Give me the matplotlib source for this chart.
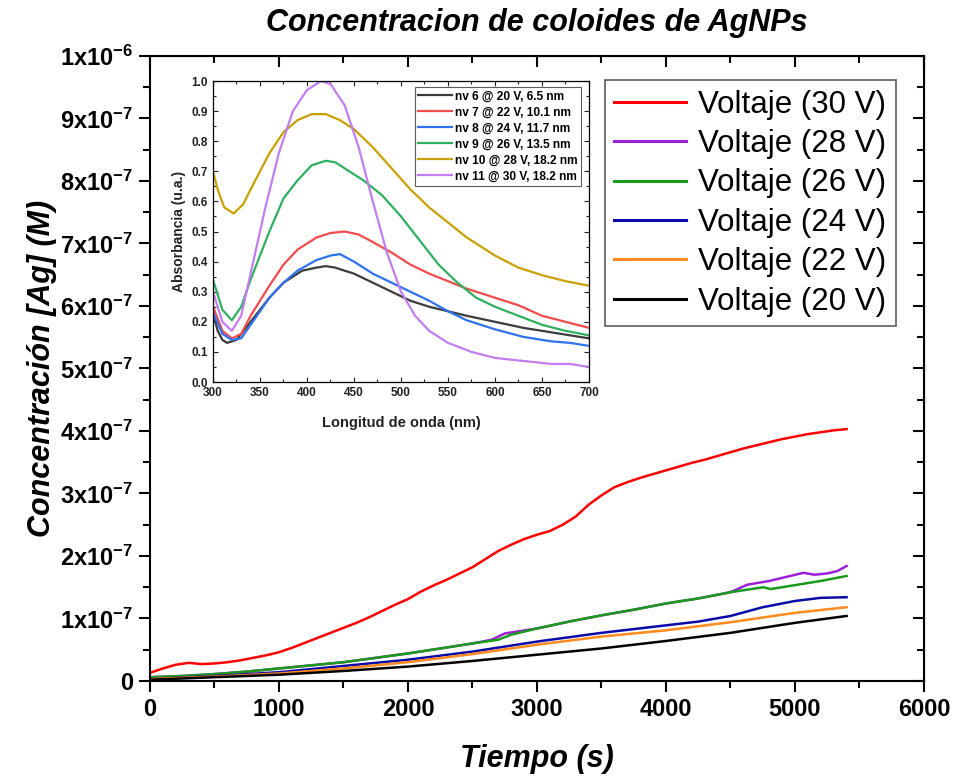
import matplotlib
matplotlib.use("Agg")
import matplotlib.pyplot as plt
from matplotlib.ticker import MultipleLocator, FixedLocator, FixedFormatter

plt.rcParams['font.family'] = ['Liberation Sans', 'DejaVu Sans']
plt.rcParams['mathtext.fontset'] = 'custom'
plt.rcParams['mathtext.rm'] = 'Liberation Sans'
plt.rcParams['mathtext.bf'] = 'Liberation Sans:bold'
plt.rcParams['mathtext.it'] = 'Liberation Sans:italic'

# ---- Concentration vs time (values in units of 1e-7 M) ----
t_30 = [0, 100, 200, 300, 400, 500, 600, 700, 800, 900, 1000, 1100, 1200, 1300, 1400,
        1500, 1600, 1700, 1800, 1900, 2000, 2100, 2200, 2300, 2400, 2500, 2600, 2700,
        2800, 2900, 3000, 3100, 3200, 3300, 3400, 3500, 3600, 3700, 3800, 3900, 4000,
        4100, 4200, 4300, 4400, 4500, 4600, 4700, 4800, 4900, 5000, 5100, 5200, 5300, 5400]
c_30 = [0.13, 0.20, 0.26, 0.29, 0.27, 0.28, 0.30, 0.33, 0.37, 0.41, 0.46, 0.53, 0.61,
        0.69, 0.77, 0.85, 0.93, 1.02, 1.12, 1.22, 1.31, 1.43, 1.53, 1.62, 1.72, 1.82,
        1.95, 2.08, 2.18, 2.27, 2.34, 2.40, 2.50, 2.63, 2.82, 2.97, 3.10, 3.18, 3.25,
        3.31, 3.37, 3.43, 3.49, 3.54, 3.60, 3.66, 3.72, 3.77, 3.82, 3.87, 3.91, 3.95,
        3.98, 4.01, 4.03]

t_28 = [0, 250, 500, 750, 1000, 1250, 1500, 1750, 2000, 2250, 2500, 2650, 2750, 3000,
        3250, 3500, 3750, 4000, 4250, 4500, 4630, 4800, 5065, 5150, 5250, 5330, 5400]
c_28 = [0.06, 0.08, 0.11, 0.15, 0.20, 0.25, 0.30, 0.37, 0.44, 0.52, 0.60, 0.66, 0.76,
        0.84, 0.95, 1.05, 1.14, 1.24, 1.32, 1.42, 1.54, 1.60, 1.73, 1.70, 1.72, 1.76, 1.84]

t_26 = [0, 250, 500, 750, 1000, 1250, 1500, 1750, 2000, 2250, 2500, 2700, 2800, 3000,
        3250, 3500, 3750, 4000, 4250, 4500, 4755, 4810, 5020, 5200, 5400]
c_26 = [0.06, 0.08, 0.11, 0.15, 0.20, 0.25, 0.30, 0.37, 0.44, 0.52, 0.60, 0.66, 0.74,
        0.84, 0.95, 1.05, 1.14, 1.24, 1.32, 1.42, 1.50, 1.47, 1.54, 1.60, 1.68]

t_24 = [0, 500, 1000, 1500, 2000, 2500, 3000, 3500, 4000, 4250, 4500, 4750, 5000, 5200, 5400]
c_24 = [0.03, 0.08, 0.14, 0.24, 0.34, 0.47, 0.63, 0.77, 0.89, 0.95, 1.04, 1.18, 1.28, 1.33, 1.34]

t_22 = [0, 500, 1000, 1500, 2000, 2500, 3000, 3500, 4000, 4500, 5000, 5400]
c_22 = [0.03, 0.07, 0.12, 0.20, 0.30, 0.43, 0.58, 0.71, 0.81, 0.94, 1.09, 1.18]

t_20 = [0, 500, 1000, 1500, 2000, 2500, 3000, 3500, 4000, 4500, 5000, 5400]
c_20 = [0.02, 0.06, 0.10, 0.16, 0.23, 0.32, 0.42, 0.52, 0.64, 0.77, 0.93, 1.04]

series_labels = ['Voltaje (30 V)', 'Voltaje (28 V)', 'Voltaje (26 V)',
                 'Voltaje (24 V)', 'Voltaje (22 V)', 'Voltaje (20 V)']
series_colors = ['#ff0000', '#9a1fd6', '#1a9a1a', '#0a0aa8', '#ff8a1e', '#000000']

y_tick_values = [0, 1, 2, 3, 4, 5, 6, 7, 8, 9, 10]
y_tick_labels = ['0', '1x10^{-7}', '2x10^{-7}', '3x10^{-7}', '4x10^{-7}',
                 '5x10^{-7}', '6x10^{-7}', '7x10^{-7}', '8x10^{-7}',
                 '9x10^{-7}', '1x10^{-6}']

# ---- UV-Vis spectra (inset) ----
wl_6 = [300, 305, 310, 315, 325, 340, 360, 375, 395, 410, 420, 430, 450, 470, 490, 510,
        530, 550, 570, 600, 630, 660, 680, 700]
ab_6 = [0.23, 0.17, 0.14, 0.13, 0.14, 0.20, 0.28, 0.33, 0.37, 0.38, 0.385, 0.38, 0.36,
        0.33, 0.30, 0.27, 0.25, 0.235, 0.22, 0.20, 0.18, 0.165, 0.155, 0.145]

wl_7 = [300, 310, 320, 330, 340, 360, 375, 390, 410, 425, 440, 455, 470, 490, 510, 530,
        550, 570, 600, 625, 650, 675, 700]
ab_7 = [0.25, 0.17, 0.145, 0.16, 0.22, 0.32, 0.39, 0.44, 0.48, 0.495, 0.50, 0.49, 0.465,
        0.43, 0.39, 0.36, 0.335, 0.31, 0.28, 0.255, 0.22, 0.20, 0.18]

wl_8 = [300, 310, 320, 330, 340, 360, 375, 390, 410, 425, 435, 450, 470, 490, 510, 530,
        550, 570, 600, 630, 660, 680, 700]
ab_8 = [0.23, 0.16, 0.14, 0.145, 0.19, 0.28, 0.33, 0.37, 0.405, 0.42, 0.425, 0.40, 0.36,
        0.33, 0.30, 0.27, 0.235, 0.205, 0.175, 0.15, 0.135, 0.13, 0.12]

wl_9 = [300, 310, 320, 330, 340, 360, 375, 390, 405, 420, 430, 445, 460, 480, 500, 520,
        540, 560, 580, 600, 625, 650, 675, 700]
ab_9 = [0.34, 0.24, 0.205, 0.25, 0.34, 0.50, 0.61, 0.67, 0.72, 0.735, 0.73, 0.70, 0.67,
        0.62, 0.55, 0.47, 0.39, 0.33, 0.28, 0.25, 0.22, 0.19, 0.17, 0.155]

wl_10 = [300, 305, 312, 322, 332, 345, 360, 375, 390, 405, 420, 435, 450, 470, 490, 510,
         530, 550, 570, 600, 625, 650, 675, 700]
ab_10 = [0.70, 0.64, 0.58, 0.56, 0.59, 0.67, 0.76, 0.83, 0.87, 0.89, 0.89, 0.87, 0.84,
         0.78, 0.71, 0.64, 0.58, 0.53, 0.48, 0.42, 0.38, 0.355, 0.335, 0.32]

wl_11 = [300, 310, 320, 330, 340, 355, 370, 385, 400, 415, 425, 440, 455, 470, 485, 500,
         515, 530, 550, 575, 600, 630, 660, 680, 700]
ab_11 = [0.30, 0.20, 0.17, 0.22, 0.36, 0.57, 0.76, 0.90, 0.97, 1.00, 0.99, 0.92, 0.78,
         0.60, 0.43, 0.30, 0.22, 0.17, 0.13, 0.10, 0.08, 0.07, 0.06, 0.06, 0.05]

spec_labels = ['nv 6 @ 20 V, 6.5 nm', 'nv 7 @ 22 V, 10.1 nm', 'nv 8 @ 24 V, 11.7 nm',
               'nv 9 @ 26 V, 13.5 nm', 'nv 10 @ 28 V, 18.2 nm', 'nv 11 @ 30 V, 18.2 nm']
spec_colors = ['#3c3c3c', '#f24b4b', '#2f72f0', '#2fb060', '#c8a000', '#c27ef0']

fig = plt.figure(figsize=(9.56, 7.82), dpi=100)
ax = fig.add_axes([0.1569, 0.1292, 0.8096, 0.7992])

series = [(t_30, c_30), (t_28, c_28), (t_26, c_26), (t_24, c_24), (t_22, c_22), (t_20, c_20)]
for (tt, cc), lab, col in zip(series, series_labels, series_colors):
    ax.plot(tt, cc, color=col, lw=1.8, label=lab)

ax.set_xlim(0, 6000)
ax.set_ylim(0, 10)
ax.xaxis.set_major_locator(MultipleLocator(1000))
ax.xaxis.set_minor_locator(MultipleLocator(500))
ax.yaxis.set_major_locator(FixedLocator(y_tick_values))
ax.yaxis.set_major_formatter(FixedFormatter(
    [s if s == '0' else '$\\mathbf{%s}$' % s for s in y_tick_labels]))
ax.yaxis.set_minor_locator(MultipleLocator(0.5))
for sp in ax.spines.values():
    sp.set_linewidth(1.5)
ax.tick_params(which='both', direction='out', width=1.5, top=False, right=False)
ax.tick_params(which='major', length=8, labelsize=17, pad=4)
ax.tick_params(which='minor', length=5)
for lab in ax.get_xticklabels() + ax.get_yticklabels():
    lab.set_fontweight('bold')

# inward ticks on the top and right edges
axt = ax.secondary_xaxis('top')
axt.xaxis.set_major_locator(MultipleLocator(1000))
axt.xaxis.set_minor_locator(MultipleLocator(500))
axt.tick_params(which='both', direction='in', width=1.5, labeltop=False)
axt.tick_params(which='major', length=8)
axt.tick_params(which='minor', length=5)
axr = ax.secondary_yaxis('right')
axr.yaxis.set_major_locator(MultipleLocator(1))
axr.yaxis.set_minor_locator(MultipleLocator(0.5))
axr.tick_params(which='both', direction='in', width=1.5, labelright=False)
axr.tick_params(which='major', length=8)
axr.tick_params(which='minor', length=5)

ax.set_xlabel('Tiempo (s)', fontsize=22, fontweight='bold', fontstyle='italic', labelpad=17)
ax.set_ylabel('Concentración [Ag] (M)', fontsize=22, fontweight='bold',
              fontstyle='italic', labelpad=2)
ax.set_title('Concentracion de coloides de AgNPs', fontsize=22, fontweight='bold',
             fontstyle='italic', pad=18)

leg = ax.legend(loc='upper right', bbox_to_anchor=(0.9638, 0.961), fontsize=22.5,
                frameon=True, fancybox=False, edgecolor='#333333', handlelength=2.3,
                handletextpad=0.4, labelspacing=0.3, borderpad=0.3, borderaxespad=0)
leg.get_frame().set_linewidth(1.2)
for line in leg.get_lines():
    line.set_linewidth(2.2)

# inset with the absorbance spectra
ins = fig.add_axes([0.2228, 0.5115, 0.3933, 0.3849])
specs = [(wl_6, ab_6), (wl_7, ab_7), (wl_8, ab_8), (wl_9, ab_9), (wl_10, ab_10), (wl_11, ab_11)]
for (ww, aa), lab, col in zip(specs, spec_labels, spec_colors):
    ins.plot(ww, aa, color=col, lw=1.6, label=lab)
ins.set_xlim(300, 700)
ins.set_ylim(0, 1.0)
ins.xaxis.set_major_locator(MultipleLocator(50))
ins.xaxis.set_minor_locator(MultipleLocator(25))
ins.yaxis.set_major_locator(MultipleLocator(0.1))
ins.yaxis.set_minor_locator(MultipleLocator(0.05))
ins.tick_params(which='both', direction='in', top=True, right=True, width=0.8,
                labelsize=8.5, colors='#222222')
ins.tick_params(which='major', length=3.5)
ins.tick_params(which='minor', length=2)
for lab in ins.get_xticklabels() + ins.get_yticklabels():
    lab.set_fontweight('bold')
ins.set_xlabel('Longitud de onda (nm)', fontsize=10.5, fontweight='bold', color='#222222',
               labelpad=12)
ins.set_ylabel('Absorbancia (u.a.)', fontsize=10, fontweight='bold', color='#222222',
               labelpad=4)
for sp in ins.spines.values():
    sp.set_linewidth(0.9)
ileg = ins.legend(loc='upper right', bbox_to_anchor=(0.98, 0.98), frameon=True,
                  fancybox=False, edgecolor='#333333', handlelength=2.8, handletextpad=0.3,
                  labelspacing=0.33, borderpad=0.3, borderaxespad=0,
                  prop={'weight': 'bold', 'size': 8.6})
ileg.get_frame().set_linewidth(0.8)

fig.savefig('out.png', dpi=100)
